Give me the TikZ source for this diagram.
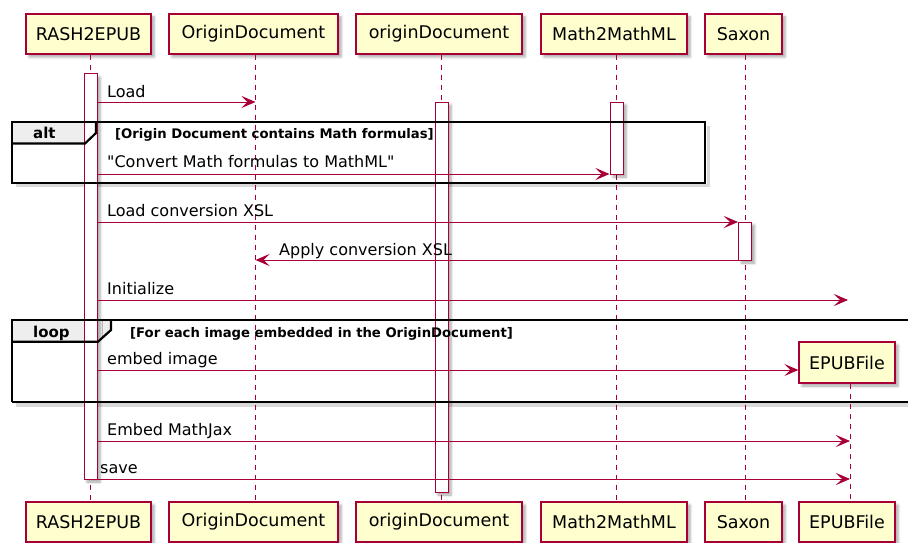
\documentclass[tikz,border=0pt]{standalone}
\usepackage{fontspec}
\setmainfont{DejaVu Sans}
\usetikzlibrary{arrows.meta,shadows.blur}
\definecolor{plred}{HTML}{A80036}
\definecolor{plfill}{HTML}{FEFECE}
\definecolor{pltab}{HTML}{EEEEEE}
\tikzset{
 sh/.style={blur shadow={shadow xshift=3pt, shadow yshift=-3pt, shadow blur radius=2.5pt, shadow opacity=35}},
 part/.style={draw=plred, line width=1.3pt, fill=plfill, minimum height=40pt, inner sep=0pt, font=\fontsize{17.5}{20}\selectfont, sh},
 life/.style={draw=plred, line width=0.9pt, dash pattern=on 5pt off 5pt},
 act/.style={draw=plred, line width=1pt, fill=white, minimum width=13pt, inner sep=0pt, sh},
 msg/.style={draw=plred, line width=1pt, -{Stealth[length=14pt,width=12pt,inset=6pt]}},
 mlabel/.style={anchor=base west, inner sep=0pt, font=\fontsize{16}{19}\selectfont},
 frameline/.style={draw=black, line width=2.2pt},
 frameshadow/.style={draw=black, opacity=0.15, line width=3.5pt},
 ftab/.style={fill=pltab},
 ftext/.style={anchor=base west, inner sep=0pt, font=\bfseries\fontsize{15}{18}\selectfont},
 guard/.style={anchor=base west, inner sep=0pt, font=\bfseries\fontsize{13.2}{16}\selectfont},
}
\begin{document}
\begin{tikzpicture}[x=1pt,y=-1pt]
\useasboundingbox (0,0) rectangle (908,543);

% lifeline x positions
\coordinate (lR) at (90.5,0);
\coordinate (lO) at (255.5,0);
\coordinate (lo) at (441.5,0);
\coordinate (lM) at (616.5,0);
\coordinate (lS) at (745,0);
\coordinate (lE) at (850,0);

% frame tab fills and shadows
\path[frameshadow] (16,185.5) -- (708.5,185.5) -- (708.5,126);
\path[frameshadow] (16,405) -- (920,405);
\path[ftab] (12,122) -- (96,122) -- (96,133) -- (85,143.5) -- (12,143.5) -- cycle;
\path[ftab] (12,320) -- (111,320) -- (111,330) -- (98,341.7) -- (12,341.7) -- cycle;

% participants top
\node[part, minimum width=125pt] (tR) at (88.5,34) {RASH2EPUB};
\node[part, minimum width=169pt] (tO) at (253.5,34) {OriginDocument};
\node[part, minimum width=166pt] (to) at (439,34) {originDocument};
\node[part, minimum width=146pt] (tM) at (614,34) {Math2MathML};
\node[part, minimum width=77pt] (tS) at (743.5,34) {Saxon};
% participants bottom
\node[part, minimum width=125pt] (bR) at (88.5,522) {RASH2EPUB};
\node[part, minimum width=169pt] (bO) at (253.5,522) {OriginDocument};
\node[part, minimum width=166pt] (bo) at (439,522) {originDocument};
\node[part, minimum width=146pt] (bM) at (614,522) {Math2MathML};
\node[part, minimum width=77pt] (bS) at (743.5,522) {Saxon};
\node[part, minimum width=96pt] (bE) at (847,522) {EPUBFile};
% created participant
\node[part, minimum width=96pt, minimum height=41pt] (cE) at (847,362.5) {EPUBFile};

% lifelines
\draw[life] (tR.south -| lR) -- (bR.north -| lR);
\draw[life] (tO.south -| lO) -- (bO.north -| lO);
\draw[life] (to.south -| lo) -- (bo.north -| lo);
\draw[life] (tM.south -| lM) -- (bM.north -| lM);
\draw[life] (tS.south -| lS) -- (bS.north -| lS);
\draw[life] (cE.south -| lE) -- (bE.north -| lE);

% activation bars
\node[act, minimum height=405pt] (aR) at (90.5,276.5) {};
\node[act, minimum height=390pt] (ao) at (441.5,297) {};
\node[act, minimum height=72pt] (aM) at (616.5,138) {};
\node[act, minimum height=38pt] (aS) at (745,241) {};

% frames
\draw[frameline] (12,122) rectangle (705,183);
\draw[frameline] (96,122) -- (96,133) -- (85,143.5) -- (12,143.5);
\node[ftext] (altlbl) at (33,139) {alt};
\node[guard] (altg) at (115,139) {[Origin Document contains Math formulas]};

\draw[frameline] (12,402) -- (12,320) -- (920,320);
\draw[frameline] (12,402) -- (920,402);
\draw[frameline] (111,320) -- (111,330) -- (98,341.7) -- (12,341.7);
\node[ftext] (looplbl) at (33,337) {loop};
\node[guard] (loopg) at (130,337) {[For each image embedded in the OriginDocument]};

% message rows
\coordinate (y1) at (0,102);
\coordinate (y2) at (0,174);
\coordinate (y3) at (0,222);
\coordinate (y4) at (0,260);
\coordinate (y5) at (0,300);
\coordinate (y6) at (0,370);
\coordinate (y7) at (0,441);
\coordinate (y8) at (0,479);
\coordinate (initend) at (848,300);

\draw[msg] (aR.east |- y1) -- (lO |- y1);
\node[mlabel] (m1) at (107,97) {Load};
\draw[msg] (aR.east |- y2) -- (aM.west |- y2);
\node[mlabel] (m2) at (107,167.5) {\textquotedbl Convert Math formulas to MathML\textquotedbl};
\draw[msg] (aR.east |- y3) -- (aS.west |- y3);
\node[mlabel] (m3) at (107,216) {Load conversion XSL};
\draw[msg] (aS.west |- y4) -- (lO |- y4);
\node[mlabel] (m4) at (279,255) {Apply conversion XSL};
\draw[msg] (aR.east |- y5) -- (initend);
\node[mlabel] (m5) at (107,294) {Initialize};
\draw[msg] (aR.east |- y6) -- (cE.west |- y6);
\node[mlabel] (m6) at (107,364) {embed image};
\draw[msg] (aR.east |- y7) -- (lE |- y7);
\node[mlabel] (m7) at (107,435) {Embed MathJax};
\draw[msg] (aR.east |- y8) -- (lE |- y8);
\node[mlabel] (m8) at (100,473) {save};
\end{tikzpicture}
\end{document}
